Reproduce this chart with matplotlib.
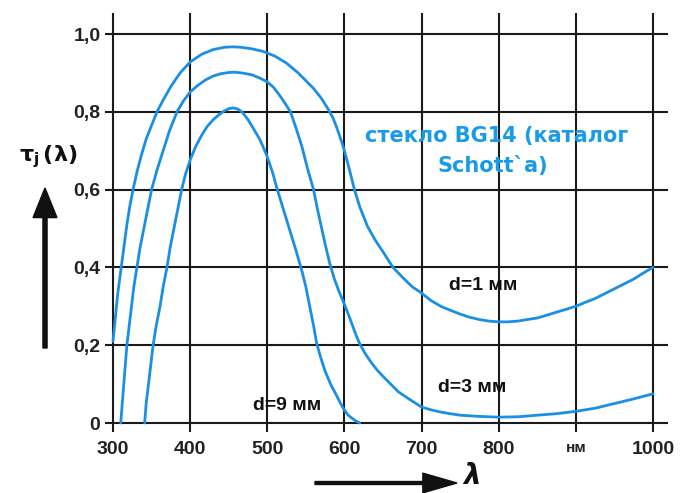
import matplotlib
matplotlib.use("Agg")
import matplotlib.pyplot as plt
from matplotlib.patches import FancyArrow

plt.rcParams['font.family'] = ['Liberation Sans', 'DejaVu Sans']

# spectral transmission of BG14 glass
wl_1 = [300, 303, 306, 310, 314, 318, 322, 326, 331, 337, 343, 350, 357, 365, 375,
        387, 400, 415, 430, 445, 455, 465, 480, 495, 510, 525, 540, 550, 560, 570,
        578, 585, 590, 596, 600, 606, 613, 620, 630, 640, 650, 663, 675, 688, 700,
        712, 725, 737, 750, 762, 775, 787, 800, 812, 825, 837, 850, 862, 875, 887,
        900, 912, 925, 937, 950, 962, 975, 987, 1000]
tau_1 = [0.21, 0.27, 0.33, 0.39, 0.45, 0.51, 0.56, 0.60, 0.645, 0.69, 0.73, 0.765,
         0.80, 0.83, 0.865, 0.90, 0.928, 0.948, 0.960, 0.966, 0.967, 0.966, 0.962,
         0.955, 0.943, 0.925, 0.90, 0.88, 0.86, 0.835, 0.81, 0.785, 0.76, 0.725,
         0.70, 0.655, 0.60, 0.555, 0.505, 0.47, 0.44, 0.40, 0.375, 0.35, 0.334,
         0.315, 0.30, 0.29, 0.28, 0.272, 0.266, 0.262, 0.26, 0.26, 0.262, 0.266,
         0.27, 0.277, 0.285, 0.292, 0.30, 0.31, 0.32, 0.332, 0.345, 0.357, 0.37,
         0.385, 0.40]

wl_3 = [310, 312, 314, 316, 318, 321, 324, 327, 331, 335, 340, 345, 350, 357, 365,
        373, 383, 391, 400, 410, 420, 430, 440, 450, 458, 470, 480, 490, 500, 508,
        515, 522, 530, 537, 545, 552, 560, 565, 570, 575, 581, 587, 593, 600, 605,
        610, 615, 620, 627, 635, 642, 650, 660, 670, 685, 700, 712, 725, 737, 750,
        775, 800, 825, 850, 875, 900, 925, 950, 975, 1000]
tau_3 = [0.0, 0.05, 0.1, 0.15, 0.2, 0.25, 0.3, 0.35, 0.4, 0.45, 0.5, 0.55, 0.6, 0.65,
         0.7, 0.75, 0.8, 0.827, 0.851, 0.868, 0.882, 0.892, 0.898, 0.901, 0.902,
         0.899, 0.895, 0.887, 0.877, 0.863, 0.845, 0.825, 0.80, 0.76, 0.71, 0.655,
         0.60, 0.55, 0.505, 0.46, 0.41, 0.37, 0.338, 0.305, 0.28, 0.253, 0.226,
         0.203, 0.178, 0.155, 0.137, 0.12, 0.10, 0.08, 0.06, 0.041, 0.034, 0.028,
         0.024, 0.02, 0.017, 0.015, 0.016, 0.02, 0.024, 0.03, 0.038, 0.05, 0.062, 0.075]

wl_9 = [341, 343, 346, 349, 352, 356, 361, 365, 370, 374, 379, 384, 389, 394, 400,
        407, 415, 422, 430, 437, 444, 450, 456, 462, 468, 475, 482, 490, 495, 500,
        507, 513, 520, 530, 537, 545, 550, 555, 560, 564, 569, 575, 582, 590, 595,
        600, 605, 610, 615, 620]
tau_9 = [0.0, 0.05, 0.1, 0.15, 0.2, 0.25, 0.3, 0.35, 0.4, 0.45, 0.5, 0.55, 0.6, 0.64,
         0.676, 0.71, 0.74, 0.762, 0.78, 0.792, 0.802, 0.808, 0.81, 0.807, 0.798,
         0.78, 0.757, 0.73, 0.708, 0.684, 0.643, 0.60, 0.555, 0.49, 0.445, 0.39,
         0.35, 0.30, 0.25, 0.205, 0.17, 0.133, 0.1, 0.07, 0.05, 0.033, 0.02,
         0.012, 0.005, 0.0]

x_ticks = [300, 400, 500, 600, 700, 800, 900, 1000]
x_labels = ["300", "400", "500", "600", "700", "800", "", "1000"]
y_ticks = [0, 0.2, 0.4, 0.6, 0.8, 1.0]
y_labels = ["0", "0,2", "0,4", "0,6", "0,8", "1,0"]

blue = "#1a8fe3"
grid_c = "#1a1a1a"

fig = plt.figure(figsize=(6.83, 4.93), dpi=100)
ax = fig.add_axes([113 / 683, 70 / 493, 540 / 683, 389 / 493])
ax.set_xlim(300, 1000)
ax.set_ylim(0, 1.0)
for s in ax.spines.values():
    s.set_visible(False)

# grid drawn by hand so the lines run past the frame like in the print
ax.vlines(x_ticks, -0.023, 1.055, color=grid_c, lw=1.5, clip_on=False, zorder=1)
ax.hlines(y_ticks, 290, 1019, color=grid_c, lw=1.5, clip_on=False, zorder=1)

for wl, tau in [(wl_1, tau_1), (wl_3, tau_3), (wl_9, tau_9)]:
    ax.plot(wl, tau, color=blue, lw=2.0, clip_on=False, zorder=3,
            solid_capstyle="round", solid_joinstyle="round")

ax.set_xticks(x_ticks)
ax.set_xticklabels(x_labels, fontsize=14, fontweight="bold", color="#222222")
ax.set_yticks(y_ticks)
ax.set_yticklabels(y_labels, fontsize=14, fontweight="bold", color="#222222")
ax.tick_params(axis="x", length=0, pad=13)
ax.tick_params(axis="y", length=0, pad=9)
ax.text(900, -0.065, "нм", ha="center", va="center", fontsize=11,
        fontweight="bold", color="#222222")

ax.text(497 / 683, 1 - 136 / 493, "стекло BG14 (каталог", transform=fig.transFigure,
        ha="center", va="center", fontsize=15, fontweight="bold", color="#1a9be8",
        family="DejaVu Sans")
ax.text(493 / 683, 1 - 166 / 493, "Schott`a)", transform=fig.transFigure,
        ha="center", va="center", fontsize=15, fontweight="bold", color="#1a9be8",
        family="DejaVu Sans")

ax.text(483 / 683, 1 - 286 / 493, "d=1 мм", transform=fig.transFigure,
        ha="center", va="center", fontsize=14, fontweight="bold", color="#111111")
ax.text(472 / 683, 1 - 388 / 493, "d=3 мм", transform=fig.transFigure,
        ha="center", va="center", fontsize=14, fontweight="bold", color="#111111")
ax.text(287 / 683, 1 - 405 / 493, "d=9 мм", transform=fig.transFigure,
        ha="center", va="center", fontsize=14, fontweight="bold", color="#111111")

# axis captions with arrows
fig.text(48 / 683, 1 - 157 / 493, r"$\mathbf{\tau_{j}\,(\lambda)}$", ha="center",
         va="center", fontsize=16, color="#111111")
fig.patches.append(FancyArrow(
    45 / 683, 1 - 348 / 493, 0, (348 - 188) / 493, width=0.006, head_width=0.035,
    head_length=0.06, length_includes_head=True, color="#111111",
    transform=fig.transFigure, figure=fig))
fig.patches.append(FancyArrow(
    315 / 683, 1 - 483 / 493, (457 - 315) / 683, 0, width=0.006, head_width=0.04,
    head_length=0.05, length_includes_head=True, color="#111111",
    transform=fig.transFigure, figure=fig))
fig.text(472 / 683, 1 - 476 / 493, "λ", ha="center", va="center", fontsize=20,
         fontweight="bold", fontstyle="italic", family="DejaVu Sans", color="#111111")

fig.savefig("out.png", dpi=100)
